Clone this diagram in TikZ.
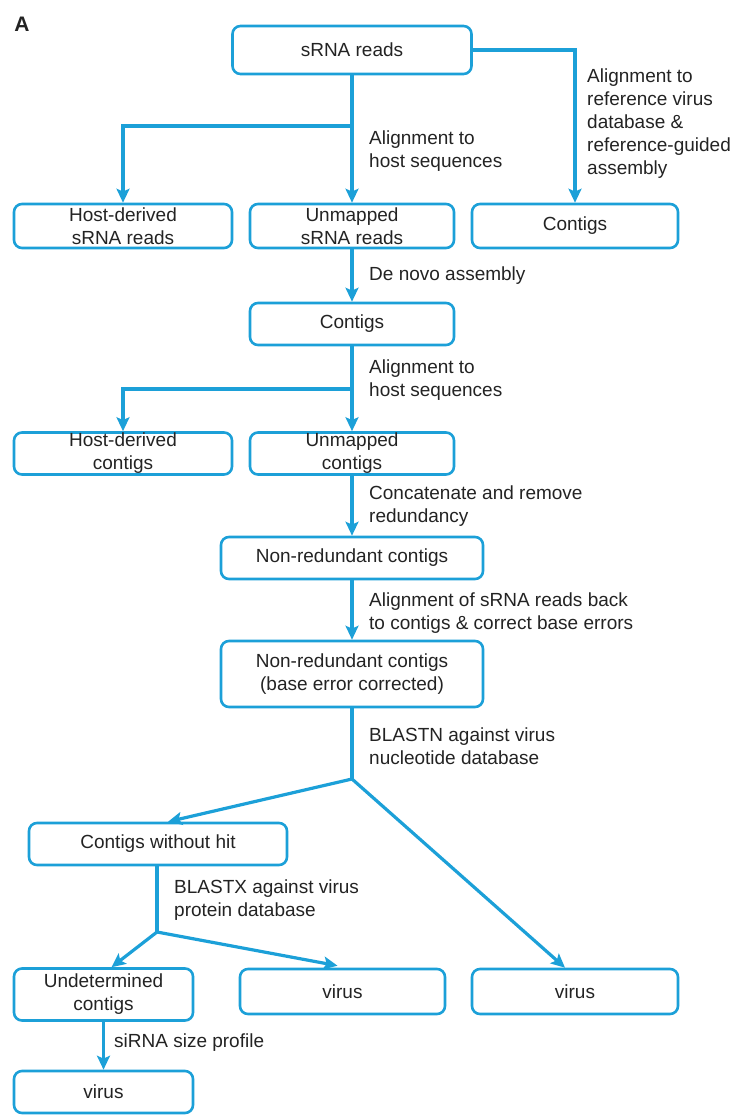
\documentclass[tikz,border=0pt]{standalone}
\usepackage{fontspec}
\setmainfont{Liberation Sans}
\usetikzlibrary{arrows.meta}
\definecolor{flowblue}{RGB}{28,160,216}
\definecolor{inkgray}{RGB}{35,35,35}

\begin{document}
\begin{tikzpicture}[x=1pt,y=-1pt,
	font=\fontsize{19}{23}\selectfont, text=inkgray,
	box/.style={draw=flowblue, line width=2.6pt, rounded corners=8pt, inner sep=0pt, align=center},
	link/.style={draw=flowblue, line width=3.2pt},
	arr/.style={link, -{Stealth[length=14pt,width=13pt,inset=3pt]}},
	lbl/.style={anchor=west, align=left, inner sep=0pt}]
	\useasboundingbox (0,0) rectangle (734,1115);
	\node[font=\fontsize{21}{24}\selectfont\bfseries] (panel) at (22,24) {A};

	%first level
	\node[box, minimum width=239pt, minimum height=48pt] (reads) at (352,50) {sRNA reads};
	\node[box, minimum width=218pt, minimum height=44pt] (hostreads) at (123,226) {Host-derived\\sRNA reads};
	\node[box, minimum width=204pt, minimum height=44pt] (unmapreads) at (352,226) {Unmapped\\sRNA reads};
	\node[box, minimum width=206pt, minimum height=44pt] (refcontigs) at (575,226) {Contigs};
	\coordinate (split1) at (352,126);	%host alignment fork
	\draw[arr] (reads) -- (unmapreads);
	\draw[arr] (split1) -| (hostreads);
	\draw[arr] (reads.east) -| (refcontigs);
	\node[lbl] (hostlbl1) at (369,151.5) {Alignment to\\host sequences};
	\node[lbl] (reflbl) at (587,123.5) {Alignment to\\reference virus\\database \&\\reference-guided\\assembly};

	%de novo
	\node[box, minimum width=204pt, minimum height=42pt] (contigs) at (352,324) {Contigs};
	\draw[arr] (unmapreads) -- (contigs);
	\node[lbl] (denovolbl) at (369,276) {De novo assembly};

	%second host alignment
	\node[box, minimum width=218pt, minimum height=42pt] (hostcontigs) at (123,453.5) {Host-derived\\contigs};
	\node[box, minimum width=204pt, minimum height=42pt] (unmapcontigs) at (352,453.5) {Unmapped\\contigs};
	\coordinate (split2) at (352,389);
	\draw[arr] (contigs) -- (unmapcontigs);
	\draw[arr] (split2) -| (hostcontigs);
	\node[lbl] (hostlbl2) at (369,380) {Alignment to\\host sequences};

	%redundancy and base errors
	\node[box, minimum width=262pt, minimum height=42pt] (nrcontigs) at (352,558) {Non-redundant contigs};
	\node[box, minimum width=262pt, minimum height=66pt] (nrfixed) at (352,674) {Non-redundant contigs\\(base error corrected)};
	\draw[arr] (unmapcontigs) -- (nrcontigs);
	\draw[arr] (nrcontigs) -- (nrfixed);
	\node[lbl] (concatlbl) at (369,506.5) {Concatenate and remove\\redundancy};
	\node[lbl] (backlbl) at (369,613.5) {Alignment of sRNA reads back\\to contigs \& correct base errors};

	%BLASTN
	\node[box, minimum width=258pt, minimum height=42pt] (nohit) at (158,844) {Contigs without hit};
	\node[box, minimum width=206pt, minimum height=45pt] (ntvirus) at (575,991.5) {virus};
	\coordinate (split3) at (352,779);
	\draw[link] (nrfixed) -- (split3);
	\draw[arr] (split3) -- ([xshift=10pt]nohit.north);
	\draw[arr] (split3) -- ([xshift=-10pt]ntvirus.north);
	\node[lbl] (blastnlbl) at (369,746.5) {BLASTN against virus\\nucleotide database};

	%BLASTX
	\node[box, minimum width=179pt, minimum height=52pt] (undet) at (103.5,994.5) {Undetermined\\contigs};
	\node[box, minimum width=205pt, minimum height=45pt] (protvirus) at (342.5,991.5) {virus};
	\coordinate (split4) at (157,932);
	\draw[link] (nohit.south -| split4) -- (split4);
	\draw[arr] (split4) -- ([xshift=8pt]undet.north);
	\draw[arr] (split4) -- ([xshift=-5pt,yshift=2pt]protvirus.north);
	\node[lbl] (blastxlbl) at (174,900) {BLASTX against virus\\protein database};

	%size profile
	\node[box, minimum width=179pt, minimum height=42pt] (sizevirus) at (103.5,1092) {virus};
	\draw[arr] (undet) -- (sizevirus);
	\node[lbl] (sizelbl) at (114,1043) {siRNA size profile};
\end{tikzpicture}
\end{document}
